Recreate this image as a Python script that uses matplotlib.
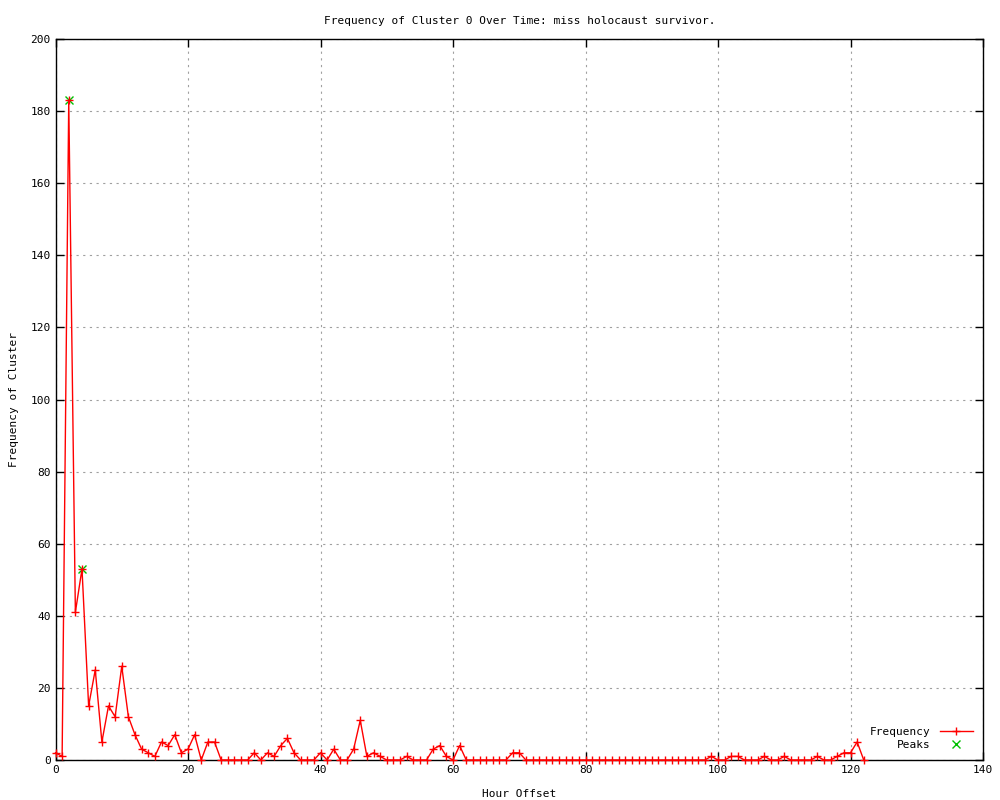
import numpy as np
import matplotlib
matplotlib.use("Agg")
import matplotlib.pyplot as plt

# hour offsets 0..122 and cluster frequency
hours = list(range(123))
freq = [2, 1, 183, 41, 53, 15, 25, 5, 15, 12,
        26, 12, 7, 3, 2, 1, 5, 4, 7, 2,
        3, 7, 0, 5, 5, 0, 0, 0, 0, 0,
        2, 0, 2, 1, 4, 6, 2, 0, 0, 0,
        2, 0, 3, 0, 0, 3, 11, 1, 2, 1,
        0, 0, 0, 1, 0, 0, 0, 3, 4, 1,
        0, 4, 0, 0, 0, 0, 0, 0, 0, 2,
        2, 0, 0, 0, 0, 0, 0, 0, 0, 0,
        0, 0, 0, 0, 0, 0, 0, 0, 0, 0,
        0, 0, 0, 0, 0, 0, 0, 0, 0, 1,
        0, 0, 1, 1, 0, 0, 0, 1, 0, 0,
        1, 0, 0, 0, 0, 1, 0, 0, 1, 2,
        2, 5, 0]
peak_x = [2, 4]
peak_y = [183, 53]

plt.rcParams['font.family'] = ['DejaVu Sans Mono']
plt.rcParams['font.size'] = 8

fig = plt.figure(figsize=(10, 8), dpi=100)
ax = fig.add_axes([0.0555, 0.05, 0.9275, 0.90125])

ax.plot(hours, freq, color='red', linewidth=1, marker='+', markersize=6,
        markeredgewidth=1, label='Frequency', clip_on=False, zorder=3)
ax.plot(peak_x, peak_y, linestyle='none', color='#00c000', marker='x',
        markersize=6, markeredgewidth=1, label='Peaks', zorder=2)

ax.set_xlim(0, 140)
ax.set_ylim(0, 200)
ax.set_xticks(np.arange(0, 141, 20))
ax.set_yticks(np.arange(0, 201, 20))
ax.tick_params(direction='in', top=True, right=True, length=6, width=1,
               labelsize=8)
ax.grid(True, color='#a0a0a0', linestyle=(0, (2, 4)), linewidth=0.8)
for s in ax.spines.values():
    s.set_linewidth(1)

ax.set_title('Frequency of Cluster 0 Over Time: miss holocaust survivor.',
             fontsize=8, pad=11)
ax.set_xlabel('Hour Offset', fontsize=8, labelpad=10)
ax.set_ylabel('Frequency of Cluster', fontsize=8, labelpad=8)

ax.legend(loc='lower right', frameon=False, markerfirst=False, fontsize=8,
          handlelength=3, borderaxespad=0.5, labelspacing=0.3)

fig.savefig('out.png', dpi=100)
